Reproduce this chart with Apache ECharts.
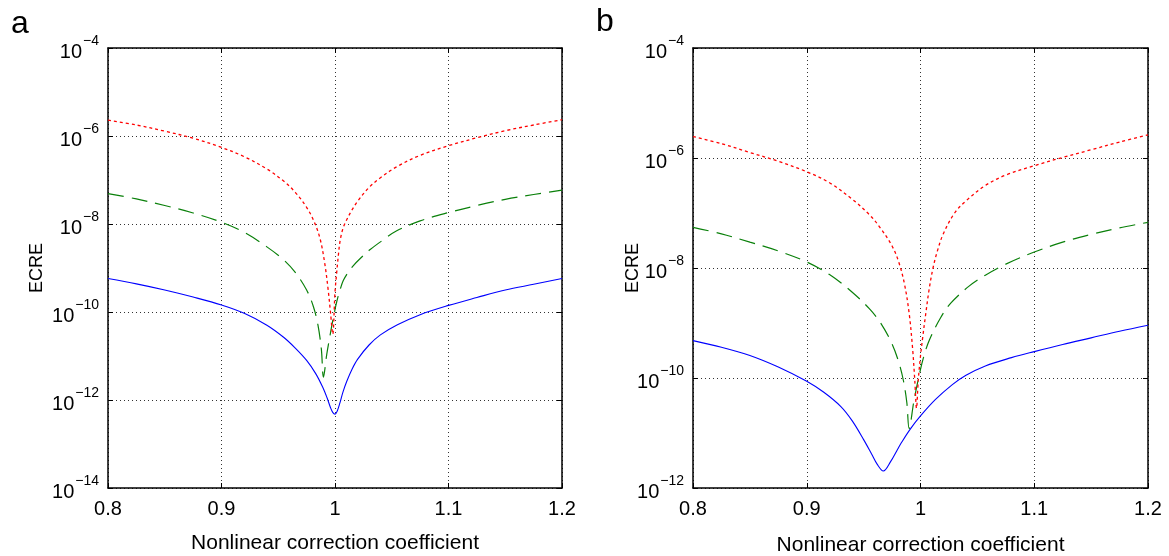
<!DOCTYPE html>
<html>
<head>
<meta charset="utf-8">
<script src="https://cdn.jsdelivr.net/npm/echarts@6/dist/echarts.min.js"></script>
<style>
html,body{margin:0;padding:0;background:#fff;}
#c{width:1169px;height:556px;}
</style>
</head>
<body>
<div id="c"></div>
<script>
// ---------- data (y given as log10 of ECRE) ----------
var xTicks = [0.8, 0.9, 1.0, 1.1, 1.2];
var panelLabels = ['a', 'b'];
var xName = 'Nonlinear correction coefficient';
var yName = 'ECRE';
var yRangeA = [1e-14, 1e-4];
var yRangeB = [1e-12, 1e-4];

// Panel a
var aRedX = [0.8, 0.825, 0.85, 0.875, 0.9, 0.92, 0.94, 0.955, 0.965, 0.975, 0.982, 0.987, 0.991, 0.994, 0.996, 0.998,
             1.0, 1.0015, 1.003, 1.0045, 1.007, 1.01, 1.015, 1.02, 1.03, 1.04, 1.055, 1.075, 1.1, 1.125, 1.15, 1.175, 1.2];
var aRedLog10 = [-5.64, -5.75, -5.89, -6.05, -6.26, -6.47, -6.75, -7.03, -7.28, -7.62, -7.97, -8.35, -8.9, -9.5, -10.0, -10.5,
                 -9.55, -9.1, -8.7, -8.38, -8.1, -7.92, -7.68, -7.48, -7.17, -6.95, -6.69, -6.44, -6.22, -6.04, -5.88, -5.75, -5.63];
var aGreenX = [0.8, 0.825, 0.85, 0.875, 0.9, 0.92, 0.94, 0.955, 0.965, 0.975, 0.981, 0.985, 0.988, 0.9898,
               0.9928, 0.996, 0.9986, 1.0016, 1.005, 1.0074, 1.012, 1.016, 1.022, 1.031, 1.042, 1.054, 1.075, 1.1, 1.125, 1.15, 1.175, 1.2];
var aGreenLog10 = [-7.31, -7.43, -7.58, -7.75, -7.96, -8.19, -8.52, -8.82, -9.1, -9.5, -9.88, -10.3, -10.85, -11.48,
                   -10.95, -10.48, -10.12, -9.76, -9.45, -9.28, -9.08, -8.95, -8.79, -8.58, -8.37, -8.16, -7.93, -7.74, -7.58, -7.44, -7.33, -7.23];
var aBlueX = [0.8, 0.825, 0.85, 0.875, 0.9, 0.92, 0.94, 0.955, 0.965, 0.975, 0.983, 0.989, 0.993, 0.996, 0.998, 1.0,
              1.002, 1.0044, 1.007, 1.0103, 1.015, 1.02, 1.03, 1.04, 1.055, 1.075, 1.1, 1.125, 1.15, 1.175, 1.2];
var aBlueLog10 = [-9.24, -9.36, -9.5, -9.66, -9.84, -10.03, -10.3, -10.58, -10.82, -11.1, -11.4, -11.7, -11.95, -12.17, -12.28, -12.32,
                  -12.25, -12.06, -11.82, -11.58, -11.3, -11.07, -10.75, -10.52, -10.29, -10.06, -9.85, -9.67, -9.5, -9.37, -9.24];

// Panel b
var bRedX = [0.8, 0.825, 0.85, 0.875, 0.9, 0.92, 0.94, 0.955, 0.965, 0.975, 0.981, 0.986, 0.99, 0.993, 0.995, 0.9965,
             0.998, 1.0, 1.002, 1.0045, 1.0075, 1.011, 1.015, 1.02, 1.03, 1.04, 1.057, 1.075, 1.1, 1.125, 1.15, 1.175, 1.2];
var bRedLog10 = [-5.61, -5.74, -5.9, -6.06, -6.25, -6.45, -6.75, -7.03, -7.28, -7.6, -7.9, -8.3, -8.82, -9.45, -10.05, -10.55,
                 -10.05, -9.6, -9.25, -8.85, -8.4, -8.0, -7.68, -7.38, -7.0, -6.78, -6.5, -6.31, -6.14, -5.99, -5.85, -5.71, -5.58];
var bGreenX = [0.8, 0.825, 0.85, 0.875, 0.9, 0.92, 0.94, 0.955, 0.965, 0.975, 0.981, 0.985, 0.988, 0.990,
               0.9942, 0.9986, 1.003, 1.008, 1.0178, 1.0266, 1.0427, 1.057, 1.075, 1.1, 1.125, 1.15, 1.175, 1.2];
var bGreenLog10 = [-7.26, -7.38, -7.53, -7.69, -7.89, -8.12, -8.44, -8.74, -9.0, -9.38, -9.72, -10.05, -10.45, -10.92,
                   -10.42, -9.97, -9.6, -9.3, -8.9, -8.64, -8.33, -8.13, -7.93, -7.71, -7.53, -7.39, -7.27, -7.17];
var bBlueX = [0.8, 0.825, 0.85, 0.875, 0.9, 0.915, 0.93, 0.94, 0.95, 0.957, 0.962, 0.9673,
              0.9737, 0.98, 0.9825, 0.991, 1.0, 1.0132, 1.028, 1.04, 1.057, 1.08, 1.1, 1.125, 1.15, 1.175, 1.2];
var bBlueLog10 = [-9.32, -9.44, -9.59, -9.8, -10.06, -10.26, -10.52, -10.78, -11.12, -11.38, -11.57, -11.69,
                  -11.52, -11.29, -11.2, -10.93, -10.69, -10.39, -10.12, -9.95, -9.78, -9.63, -9.52, -9.39, -9.27, -9.15, -9.04];

// ---------- chart ----------
function pairs(xs, logs) { return xs.map(function (x, i) { return [x, Math.pow(10, logs[i])]; }); }

var FONT = 'Liberation Sans, Arial, Helvetica, sans-serif';
var grids = [
  {left: 108, top: 48, width: 454, height: 440, outerBoundsMode: 'none', containLabel: false},
  {left: 693, top: 48, width: 455, height: 440, outerBoundsMode: 'none', containLabel: false}
];

function yLabelFmt(v) {
  var e = Math.round(Math.log(v) / Math.LN10);
  return '{b|10}{s|' + (e < 0 ? '\u2212' : '') + Math.abs(e) + '}';
}

var xAxes = [], yAxes = [];
[0, 1].forEach(function (g) {
  xAxes.push({
    type: 'value', gridIndex: g, min: 0.8, max: 1.2, interval: 0.1,
    position: 'bottom',
    name: xName, nameLocation: 'middle', nameGap: g === 0 ? 45 : 47, nameMoveOverlap: false,
    nameTextStyle: {fontFamily: FONT, fontSize: 21, color: '#000'},
    axisLine: {show: true, onZero: false, lineStyle: {color: '#000', width: 1.5}},
    axisTick: {show: true, inside: true, length: 5, lineStyle: {color: '#000', width: 1}},
    axisLabel: {fontFamily: FONT, fontSize: 20, color: '#000', margin: 11,
      formatter: function (v) { return String(Math.round(v * 10) / 10); }},
    splitLine: {show: true, lineStyle: {color: '#333', width: 1, type: [1, 3]}}
  });
  xAxes.push({
    type: 'value', gridIndex: g, min: 0.8, max: 1.2, interval: 0.1,
    position: 'top',
    axisLine: {show: true, onZero: false, lineStyle: {color: '#000', width: 1.5}},
    axisTick: {show: true, inside: true, length: 5, lineStyle: {color: '#000', width: 1}},
    axisLabel: {show: false},
    splitLine: {show: false}
  });
  var rng = g === 0 ? yRangeA : yRangeB;
  yAxes.push({
    type: 'log', logBase: 10, gridIndex: g, min: rng[0], max: rng[1],
    interval: 2,
    position: 'left',
    name: yName, nameLocation: 'middle', nameGap: g === 0 ? 62 : 51, nameRotate: 90, nameMoveOverlap: false,
    nameTextStyle: {fontFamily: FONT, fontSize: 18, color: '#000'},
    axisLine: {show: true, onZero: false, lineStyle: {color: '#000', width: 1.5}},
    axisTick: {show: true, inside: true, length: 5, lineStyle: {color: '#000', width: 1}},
    minorTick: {show: false},
    axisLabel: {
      fontFamily: FONT, color: '#000', margin: 9,
      formatter: yLabelFmt,
      rich: {
        b: {fontFamily: FONT, fontSize: 20, color: '#000', lineHeight: 28, verticalAlign: 'bottom'},
        s: {fontFamily: FONT, fontSize: 14, color: '#000', lineHeight: 28, verticalAlign: 'top', padding: [0, 0, 0, 1]}
      }
    },
    splitLine: {show: true, lineStyle: {color: '#333', width: 1, type: [1, 3]}}
  });
  yAxes.push({
    type: 'log', logBase: 10, gridIndex: g, min: rng[0], max: rng[1],
    interval: 2,
    position: 'right',
    axisLine: {show: true, onZero: false, lineStyle: {color: '#000', width: 1.5}},
    axisTick: {show: true, inside: true, length: 5, lineStyle: {color: '#000', width: 1}},
    axisLabel: {show: false},
    splitLine: {show: false}
  });
});

function lineSeries(g, xs, logs, color, dash, w) {
  return {
    type: 'line', xAxisIndex: g * 2, yAxisIndex: g * 2,
    data: pairs(xs, logs), showSymbol: false, symbol: 'none', smooth: 0.35,
    lineStyle: {color: color, width: w, type: dash},
    silent: true, animation: false, z: 3
  };
}

var series = [
  lineSeries(0, aBlueX, aBlueLog10, '#0000ff', 'solid', 1.1),
  lineSeries(0, aGreenX, aGreenLog10, '#0a800a', [16, 8], 1.2),
  lineSeries(0, aRedX, aRedLog10, '#ff0000', [3, 3], 1.3),
  lineSeries(1, bBlueX, bBlueLog10, '#0000ff', 'solid', 1.1),
  lineSeries(1, bGreenX, bGreenLog10, '#0a800a', [16, 8], 1.2),
  lineSeries(1, bRedX, bRedLog10, '#ff0000', [3, 3], 1.3)
];

var chart = echarts.init(document.getElementById('c'), null, {renderer: 'canvas'});
chart.setOption({
  animation: false,
  backgroundColor: '#fff',
  grid: grids,
  xAxis: xAxes,
  yAxis: yAxes,
  series: series,
  graphic: [
    {type: 'text', left: 11, top: 8, style: {text: panelLabels[0], fontFamily: FONT, fontSize: 32, fill: '#000'}},
    {type: 'text', left: 596, top: 6, style: {text: panelLabels[1], fontFamily: FONT, fontSize: 32, fill: '#000'}}
  ]
});
</script>
</body>
</html>
